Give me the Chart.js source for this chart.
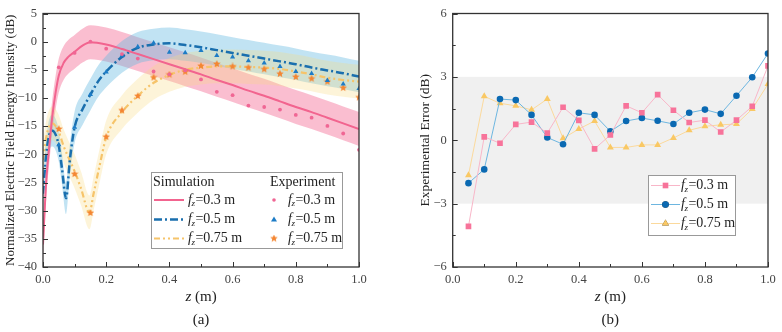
<!DOCTYPE html>
<html>
<head>
<meta charset="utf-8">
<script src="https://cdn.jsdelivr.net/npm/chart.js@4.4.1/dist/chart.umd.min.js"></script>
<style>
    html, body { margin: 0; padding: 0; background: #fff; }
    #wrap { position: relative; width: 782px; height: 332px; }
    canvas { position: absolute; top: 0; }
</style>
</head>
<body>
<div id="wrap">
    <canvas id="chartA" width="380" height="332" style="left:0"></canvas>
    <canvas id="chartB" width="402" height="332" style="left:380px"></canvas>
</div>
<script>
// ---- panel (a): simulation curves ----
const simZ03 = [0, 0.01, 0.02, 0.03, 0.04, 0.05, 0.065, 0.08, 0.1, 0.125, 0.15, 0.2, 0.25, 0.3, 0.35, 0.4, 0.45, 0.5, 0.55, 0.6, 0.65, 0.7, 0.75, 0.8, 0.85, 0.9, 0.95, 1.0];
const simDb03 = [-36, -25, -18.5, -13, -9, -6.0, -3.8, -2.7, -1.8, -0.7, -0.1, -0.5, -1.3, -2.2, -3.1, -4.0, -4.9, -5.8, -6.8, -7.7, -8.7, -9.6, -10.6, -11.6, -12.5, -13.5, -14.5, -15.5];
const simZ05 = [0, 0.01, 0.02, 0.03, 0.04, 0.05, 0.06, 0.073, 0.085, 0.1, 0.125, 0.15, 0.175, 0.2, 0.25, 0.3, 0.35, 0.4, 0.45, 0.5, 0.55, 0.6, 0.65, 0.7, 0.75, 0.8, 0.85, 0.9, 0.95, 1.0];
const simDb05 = [-27, -20, -16.5, -15.8, -16.5, -18.5, -22.5, -27.8, -21, -15.2, -12, -9.4, -7, -5.3, -2.7, -1.1, -0.5, -0.3, -0.6, -1.0, -1.5, -2.0, -2.5, -3.0, -3.5, -4.0, -4.6, -5.1, -5.6, -6.2];
const simZ075 = [0, 0.01, 0.02, 0.03, 0.04, 0.05, 0.065, 0.08, 0.1, 0.12, 0.147, 0.16, 0.178, 0.2, 0.25, 0.3, 0.35, 0.4, 0.45, 0.5, 0.55, 0.6, 0.65, 0.7, 0.75, 0.8, 0.85, 0.9, 0.95, 1.0];
const simDb075 = [-21, -17, -15, -14.5, -15, -16, -18.5, -20.5, -23, -26, -30.3, -27, -22.3, -17, -12.5, -9.6, -7.3, -5.9, -5.0, -4.6, -4.4, -4.4, -4.5, -4.6, -4.85, -5.3, -5.8, -6.4, -6.8, -7.1];
// half width of the shaded uncertainty band (dB)
const band03 = 3, band05 = 2.8, band075 = 3;

// ---- panel (a): measured points ----
const expZ = [0.05, 0.1, 0.15, 0.2, 0.25, 0.3, 0.35, 0.4, 0.45, 0.5, 0.55, 0.6, 0.65, 0.7, 0.75, 0.8, 0.85, 0.9, 0.95, 1.0];
const exp03 = [-4.56, -2.0, 0, -1.25, -2.2, -3.0, -5.3, -5.8, -5.1, -6.7, -8.9, -9.5, -11.35, -11.6, -12.05, -13.0, -13.5, -14.95, -16.3, -19.2];
const exp05 = [-18.3, -15.2, -9.4, -5.4, -2.5, -0.9, -0.25, -1.9, -1.95, -1.55, -2.45, -2.7, -3.37, -3.78, -4.43, -5.3, -5.67, -6.9, -7.5, -8.3];
const exp075 = [-15.5, -23.5, -30.4, -16.9, -12.2, -9.65, -6.35, -5.85, -5.35, -4.3, -3.96, -4.4, -4.6, -4.9, -5.7, -6.26, -6.56, -7.1, -8.2, -9.9];

// ---- panel (b): experimental error ----
const err03 = [-4.08, 0.16, -0.14, 0.75, 0.86, 0.34, 1.56, 0.94, -0.41, 0.25, 1.63, 1.30, 2.16, 1.42, 0.84, 0.95, 0.39, 0.95, 1.61, 3.52];
const err05 = [-2.03, -1.38, 1.95, 1.9, 1.2, 0.13, -0.19, 1.3, 1.2, 0.42, 0.91, 1.05, 0.92, 0.77, 1.3, 1.45, 1.25, 2.11, 2.98, 4.11];
const err075 = [-1.66, 2.08, 1.75, 1.63, 1.44, 1.95, 0.09, 0.53, 0.91, -0.34, -0.34, -0.22, -0.22, 0.11, 0.47, 0.66, 0.73, 0.77, 1.48, 2.66];
const errBandLow = -3, errBandHigh = 3;

const focalLabels = ['0.3', '0.5', '0.75'];

const SERIF = "'Liberation Serif', 'Times New Roman', serif";
Chart.defaults.font.family = SERIF;
Chart.defaults.color = '#333';

const pinkLine = '#f2648f', blueLine = '#1a6fae', orangeLine = '#f6c46a';

// small filled star for the f=0.75 m measurements
function makeStar(size, color) {
    const c = document.createElement('canvas');
    c.width = size; c.height = size;
    const g = c.getContext('2d');
    const cx = size / 2, cy = size / 2, ro = size / 2, ri = ro * 0.45;
    g.beginPath();
    for (let i = 0; i < 10; i++) {
        const r = i % 2 ? ri : ro;
        const a = -Math.PI / 2 + i * Math.PI / 5;
        g.lineTo(cx + r * Math.cos(a), cy + r * Math.sin(a));
    }
    g.closePath();
    g.fillStyle = color;
    g.fill();
    return c;
}
const starImg = makeStar(8, '#f48632');

const pts = (xs, ys, d = 0) => xs.map((v, i) => ({x: v, y: ys[i] + d}));

const minus = v => (v < 0 ? '\u2212' + Math.abs(v) : String(v));

// frame round the plot and inward ticks (major + minor)
const frameTicks = {
    id: 'frameTicks',
    afterDraw(chart) {
        const {ctx, chartArea: a, scales: {x, y}} = chart;
        ctx.save();
        ctx.strokeStyle = '#333';
        ctx.lineWidth = 1.3;
        ctx.strokeRect(a.left, a.top, a.right - a.left, a.bottom - a.top);
        ctx.lineWidth = 1;
        ctx.beginPath();
        x.ticks.forEach((t, i) => {
            const px = Math.round(x.getPixelForValue(t.value)) + 0.5;
            ctx.moveTo(px, a.bottom); ctx.lineTo(px, a.bottom - 5);
            if (i < x.ticks.length - 1) {
                const mx = Math.round(x.getPixelForValue((t.value + x.ticks[i + 1].value) / 2)) + 0.5;
                ctx.moveTo(mx, a.bottom); ctx.lineTo(mx, a.bottom - 3);
            }
        });
        y.ticks.forEach((t, i) => {
            const py = Math.round(y.getPixelForValue(t.value)) + 0.5;
            ctx.moveTo(a.left, py); ctx.lineTo(a.left + 5, py);
            if (i < y.ticks.length - 1) {
                const my = Math.round(y.getPixelForValue((t.value + y.ticks[i + 1].value) / 2)) + 0.5;
                ctx.moveTo(a.left, my); ctx.lineTo(a.left + 3, my);
            }
        });
        ctx.stroke();
        ctx.restore();
    }
};

// "f" italic with italic subscript z, then "=0.3 m"
function drawFz(ctx, x, y, val) {
    ctx.textBaseline = 'middle';
    ctx.textAlign = 'left';
    ctx.fillStyle = '#222';
    ctx.font = 'italic 14px ' + SERIF;
    ctx.fillText('f', x, y);
    x += ctx.measureText('f').width;
    ctx.font = 'italic 9px ' + SERIF;
    ctx.fillText('z', x - 0.5, y + 4);
    x += ctx.measureText('z').width;
    ctx.font = '14px ' + SERIF;
    ctx.fillText('=' + val + ' m', x, y);
}

// axis titles and the panel caption
const titles = {
    id: 'titles',
    afterDraw(chart, args, o) {
        const {ctx, chartArea: a} = chart;
        const cx = (a.left + a.right) / 2;
        ctx.save();
        ctx.fillStyle = '#222';
        ctx.textBaseline = 'middle';
        // x title: italic z + " (m)"
        ctx.font = 'italic 15px ' + SERIF;
        const wz = ctx.measureText('z').width;
        ctx.font = '15px ' + SERIF;
        const wm = ctx.measureText(' (m)').width;
        let x0 = cx - (wz + wm) / 2;
        ctx.textAlign = 'left';
        ctx.font = 'italic 15px ' + SERIF;
        ctx.fillText('z', x0, 297);
        ctx.font = '15px ' + SERIF;
        ctx.fillText(' (m)', x0 + wz, 297);
        ctx.textAlign = 'center';
        ctx.fillText(o.caption, cx, 320);
        // y title
        ctx.translate(o.yTitleX, (a.top + a.bottom) / 2);
        ctx.rotate(-Math.PI / 2);
        ctx.font = o.yFont + 'px ' + SERIF;
        ctx.fillText(o.yTitle, 0, 0);
        ctx.restore();
    }
};

// two-column legend of panel (a)
const legendA = {
    id: 'legendA',
    afterDraw(chart) {
        const {ctx} = chart;
        ctx.save();
        ctx.fillStyle = '#fff';
        ctx.fillRect(151.5, 172.5, 191, 76);
        ctx.strokeStyle = '#999';
        ctx.lineWidth = 1;
        ctx.strokeRect(151.5, 172.5, 191, 76);
        ctx.fillStyle = '#222';
        ctx.font = '14px ' + SERIF;
        ctx.textBaseline = 'middle';
        ctx.fillText('Simulation', 153, 182.5);
        ctx.fillText('Experiment', 270, 182.5);
        const rows = [200, 219.5, 238.5];
        const styles = [
            {c: pinkLine, w: 2, d: []},
            {c: blueLine, w: 2.5, d: [8, 3, 2, 3]},
            {c: orangeLine, w: 2.2, d: [6, 3, 2, 3, 2, 3]}
        ];
        rows.forEach((ry, i) => {
            const s = styles[i];
            ctx.strokeStyle = s.c; ctx.lineWidth = s.w; ctx.setLineDash(s.d);
            ctx.beginPath(); ctx.moveTo(154, ry); ctx.lineTo(184, ry); ctx.stroke();
            ctx.setLineDash([]);
            drawFz(ctx, 188, ry, focalLabels[i]);
            drawFz(ctx, 288, ry, focalLabels[i]);
        });
        // experiment markers
        ctx.fillStyle = '#f06694';
        ctx.beginPath(); ctx.arc(274, rows[0], 1.8, 0, Math.PI * 2); ctx.fill();
        ctx.fillStyle = '#1d7cc6';
        ctx.beginPath();
        ctx.moveTo(274, rows[1] - 3); ctx.lineTo(277, rows[1] + 2); ctx.lineTo(271, rows[1] + 2);
        ctx.closePath(); ctx.fill();
        ctx.drawImage(starImg, 270, rows[2] - 4);
        ctx.restore();
    }
};

// grey +-3 dB tolerance band of panel (b)
const errBand = {
    id: 'errBand',
    beforeDatasetsDraw(chart) {
        const {ctx, chartArea: a, scales: {y}} = chart;
        const top = y.getPixelForValue(errBandHigh), bot = y.getPixelForValue(errBandLow);
        ctx.save();
        ctx.fillStyle = '#f0f0f0';
        ctx.fillRect(a.left, top, a.right - a.left, bot - top);
        ctx.restore();
    }
};

const legendB = {
    id: 'legendB',
    afterDraw(chart) {
        const {ctx} = chart;
        const ox = -380;
        ctx.save();
        ctx.fillStyle = '#fff';
        ctx.fillRect(648.5 + ox, 175.5, 87, 60);
        ctx.strokeStyle = '#999';
        ctx.lineWidth = 1;
        ctx.strokeRect(648.5 + ox, 175.5, 87, 60);
        const rows = [185.5, 204.5, 223.5];
        chart.data.datasets.forEach((ds, i) => {
            const ry = rows[i];
            ctx.strokeStyle = ds.borderColor; ctx.lineWidth = 1;
            ctx.beginPath(); ctx.moveTo(651 + ox, ry); ctx.lineTo(680 + ox, ry); ctx.stroke();
            Chart.helpers.drawPoint(ctx, {pointStyle: ds.pointStyle, radius: ds.pointRadius, rotation: 0, borderWidth: 0},
                665.5 + ox, ry);
            ctx.fillStyle = ds.pointBackgroundColor;
            ctx.fill();
            drawFz(ctx, 681 + ox, ry, focalLabels[i]);
        });
        ctx.restore();
    }
};

function bandSets(z, db, half, color) {
    return [
        {data: pts(z, db, half), backgroundColor: color, borderWidth: 0, pointRadius: 0,
            fill: '+1', cubicInterpolationMode: 'monotone', order: 20},
        {data: pts(z, db, -half), backgroundColor: color, borderWidth: 0, pointRadius: 0,
            fill: false, cubicInterpolationMode: 'monotone', order: 20}
    ];
}

const axisX = {
    type: 'linear', min: 0, max: 1,
    grid: {display: false, drawTicks: false}, border: {display: false},
    ticks: {stepSize: 0.2, padding: 5, font: {size: 12.5}, color: '#444', maxRotation: 0,
        callback: v => v.toFixed(1)},
    afterFit: s => { s.height = 65; }
};

new Chart(document.getElementById('chartA'), {
    type: 'line',
    data: {
        datasets: [
            ...bandSets(simZ075, simDb075, band075, 'rgba(250, 218, 130, 0.3)'),
            ...bandSets(simZ05, simDb05, band05, 'rgba(100, 185, 225, 0.4)'),
            ...bandSets(simZ03, simDb03, band03, 'rgba(245, 110, 150, 0.45)'),
            {data: pts(simZ03, simDb03), borderColor: pinkLine, borderWidth: 2, pointRadius: 0,
                cubicInterpolationMode: 'monotone', order: 5},
            {data: pts(simZ05, simDb05), borderColor: blueLine, borderWidth: 2.5, borderDash: [8, 3, 2, 3],
                pointRadius: 0, cubicInterpolationMode: 'monotone', order: 5},
            {data: pts(simZ075, simDb075), borderColor: orangeLine, borderWidth: 2.2, borderDash: [6, 3, 2, 3, 2, 3],
                pointRadius: 0, cubicInterpolationMode: 'monotone', order: 5},
            {data: pts(expZ, exp03), showLine: false, pointRadius: 1.9, pointBackgroundColor: '#f06694',
                pointBorderWidth: 0, order: 1},
            {data: pts(expZ, exp05), showLine: false, pointStyle: 'triangle', pointRadius: 3, pointBackgroundColor: '#1d7cc6',
                pointBorderWidth: 0, order: 1},
            {data: pts(expZ, exp075), showLine: false, pointStyle: starImg, pointRadius: 4, order: 1}
        ]
    },
    options: {
        responsive: false,
        devicePixelRatio: 1,
        animation: false,
        events: [],
        layout: {padding: {left: 0, right: 21, top: 13, bottom: 0}},
        plugins: {
            legend: {display: false}, tooltip: {enabled: false},
            titles: {caption: '(a)', yTitle: 'Normalized Electric Field Energy Intensity (dB)', yTitleX: 11, yFont: 13}
        },
        scales: {
            x: axisX,
            y: {
                min: -40, max: 5,
                grid: {display: false, drawTicks: false}, border: {display: false},
                ticks: {stepSize: 5, padding: 6, font: {size: 12.5}, color: '#444', callback: minus},
                afterFit: s => { s.width = 43; }
            }
        }
    },
    plugins: [frameTicks, titles, legendA]
});

new Chart(document.getElementById('chartB'), {
    type: 'line',
    data: {
        datasets: [
            {data: pts(expZ, err03), borderColor: '#f8b6c8', borderWidth: 1, pointStyle: 'rect', pointRadius: 4,
                pointBackgroundColor: '#f7739a', pointBorderWidth: 0, tension: 0},
            {data: pts(expZ, err05), borderColor: '#6db6e0', borderWidth: 1, pointStyle: 'circle', pointRadius: 3.3,
                pointBackgroundColor: '#0a69b2', pointBorderWidth: 0, tension: 0},
            {data: pts(expZ, err075), borderColor: '#fbd99c', borderWidth: 1, pointStyle: 'triangle', pointRadius: 4,
                pointBackgroundColor: '#f9c864', pointBorderWidth: 0, tension: 0}
        ]
    },
    options: {
        responsive: false,
        devicePixelRatio: 1,
        animation: false,
        events: [],
        layout: {padding: {left: 42.7, right: 14, top: 13, bottom: 0}},
        plugins: {
            legend: {display: false}, tooltip: {enabled: false},
            titles: {caption: '(b)', yTitle: 'Experimental Error (dB)', yTitleX: 45, yFont: 13.5}
        },
        scales: {
            x: {...axisX},
            y: {
                min: -6, max: 6,
                grid: {display: false, drawTicks: false}, border: {display: false},
                ticks: {stepSize: 3, padding: 6, font: {size: 12.5}, color: '#444', callback: minus},
                afterFit: s => { s.width = 30; }
            }
        }
    },
    plugins: [errBand, frameTicks, titles, legendB]
});
</script>
</body>
</html>
